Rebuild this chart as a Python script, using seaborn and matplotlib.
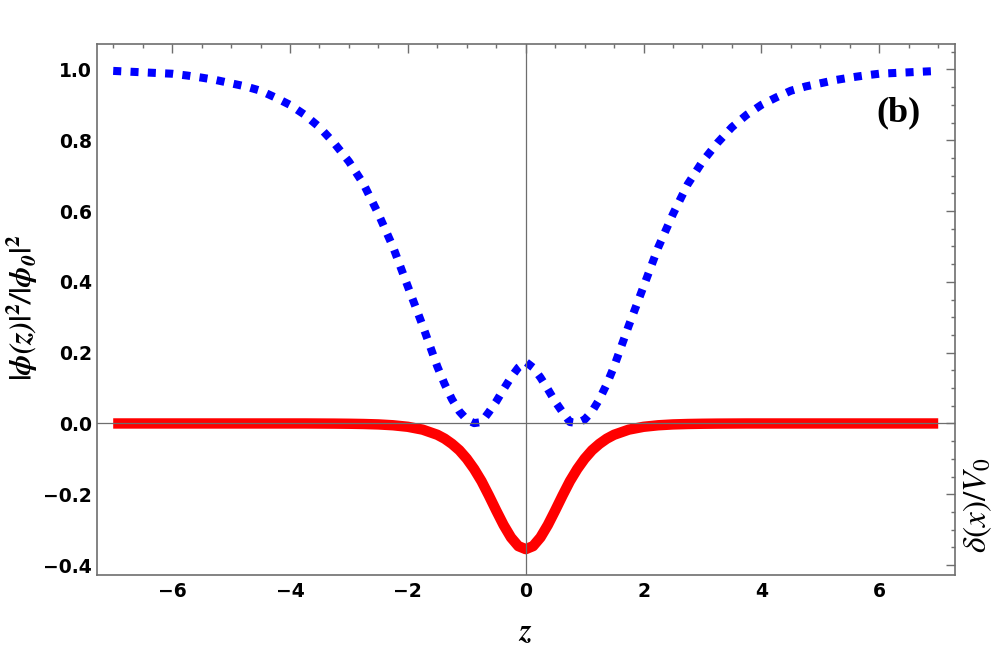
import matplotlib
matplotlib.use("Agg")
import matplotlib.pyplot as plt
import seaborn as sns
from matplotlib.ticker import MultipleLocator

# valores
z = [-7.0, -6.75, -6.5, -6.25, -6.0, -5.75, -5.5, -5.25, -5.0, -4.75, -4.5,
     -4.25, -4.0, -3.75, -3.5, -3.25, -3.0, -2.75, -2.5, -2.25, -2.0, -1.75,
     -1.5, -1.375, -1.25, -1.125, -1.0, -0.875, -0.75, -0.625, -0.5, -0.375,
     -0.25, -0.125, 0.0, 0.125, 0.25, 0.375, 0.5, 0.625, 0.75, 0.875, 1.0,
     1.125, 1.25, 1.375, 1.5,
     1.75, 2.0, 2.25, 2.5, 2.75, 3.0, 3.25, 3.5, 3.75, 4.0, 4.25, 4.5, 4.75,
     5.0, 5.25, 5.5, 5.75, 6.0, 6.25, 6.5, 6.75, 7.0]

phi2 = [0.996, 0.994, 0.992, 0.990, 0.988, 0.983, 0.977, 0.970, 0.961, 0.952, 0.940,
        0.921, 0.900, 0.872, 0.837, 0.792, 0.740, 0.676, 0.592, 0.498, 0.387, 0.277,
        0.161, 0.111, 0.068, 0.034, 0.011, 0.001, 0.004, 0.032, 0.062, 0.097,
        0.130, 0.158, 0.174, 0.158, 0.130, 0.097, 0.062, 0.032, 0.004, 0.001, 0.011,
        0.034, 0.068, 0.111, 0.161,
        0.277, 0.387, 0.498, 0.592, 0.676, 0.740, 0.792, 0.837, 0.872, 0.900, 0.921,
        0.940, 0.952, 0.961, 0.970, 0.977, 0.983, 0.988, 0.990, 0.992, 0.994, 0.996]

delta = [0.0, 0.0, 0.0, 0.0, 0.0, 0.0, 0.0, 0.0, 0.0, 0.0, 0.0,
         0.0, 0.0, 0.0, -0.0002, -0.0004, -0.0008, -0.0015, -0.0027, -0.0051, -0.0094, -0.0174,
         -0.0319, -0.0430, -0.0577, -0.0758, -0.0996, -0.1287, -0.163, -0.2035, -0.246, -0.287,
         -0.322, -0.3465, -0.355, -0.3465, -0.322, -0.287, -0.246, -0.2035, -0.163, -0.1287, -0.0996,
         -0.0758, -0.0577, -0.0430, -0.0319,
         -0.0174, -0.0094, -0.0051, -0.0027, -0.0015, -0.0008, -0.0004, -0.0002, 0.0, 0.0, 0.0,
         0.0, 0.0, 0.0, 0.0, 0.0, 0.0, 0.0, 0.0, 0.0, 0.0, 0.0]

sns.set_theme(style="white")
plt.rcParams["font.family"] = ["DejaVu Sans"]
plt.rcParams["mathtext.fontset"] = "stix"

gris = "#6e6e6e"

fig = plt.figure(figsize=(10, 6.48), dpi=100)
ax = fig.add_axes([0.0967, 0.1127, 0.8586, 0.8194])

sns.lineplot(x=z, y=delta, color="#ff0000", lw=7.5, sort=False,
             solid_capstyle="butt", ax=ax)
sns.lineplot(x=z, y=phi2, color="#0000ff", lw=5.8, sort=False,
             linestyle=(0, (1, 1.15)), dash_capstyle="butt", ax=ax)

# ejes en el origen
ax.axhline(0, color=gris, lw=0.9, zorder=5)
ax.axvline(0, color=gris, lw=0.9, zorder=5)

ax.set_xlim(-7.28, 7.29)
ax.set_ylim(-0.428, 1.072)
ax.xaxis.set_major_locator(MultipleLocator(2))
ax.xaxis.set_minor_locator(MultipleLocator(0.5))
ax.yaxis.set_major_locator(MultipleLocator(0.2))
ax.yaxis.set_minor_locator(MultipleLocator(0.05))
ax.tick_params(which="both", direction="in", top=True, right=True,
               color=gris, width=1, labelsize=13.5, labelcolor="black")
ax.tick_params(which="major", length=6.5)
ax.tick_params(which="minor", length=3)
ax.tick_params(axis="x", pad=5)
ax.tick_params(axis="y", pad=3.6)
plt.setp(ax.get_xticklabels() + ax.get_yticklabels(), fontweight="bold")
for s in ax.spines.values():
    s.set_color(gris)
    s.set_linewidth(1.2)
ax.set_xlabel("")
ax.set_ylabel("")

fig.text(0.022, 1 - 308 / 648,
         r"$\mathbfit{|\phi(z)|^{\mathbf{2}}/|\phi_0|^{\mathbf{2}}}$",
         rotation=90, ha="center", va="center", fontsize=22, color="black")
fig.text(0.525, 1 - 632 / 648, r"$\mathbfit{z}$", ha="center", va="center",
         fontsize=22, color="black")
fig.text(0.978, 1 - 505 / 648, r"$\delta(x)/V_0$", rotation=90,
         ha="center", va="center", fontsize=24, color="black")
fig.text(0.898, 1 - 113 / 648, "(b)", family="Liberation Serif",
         fontweight="bold", ha="center", va="center", fontsize=26,
         color="black")

fig.savefig("out.png", dpi=100)
